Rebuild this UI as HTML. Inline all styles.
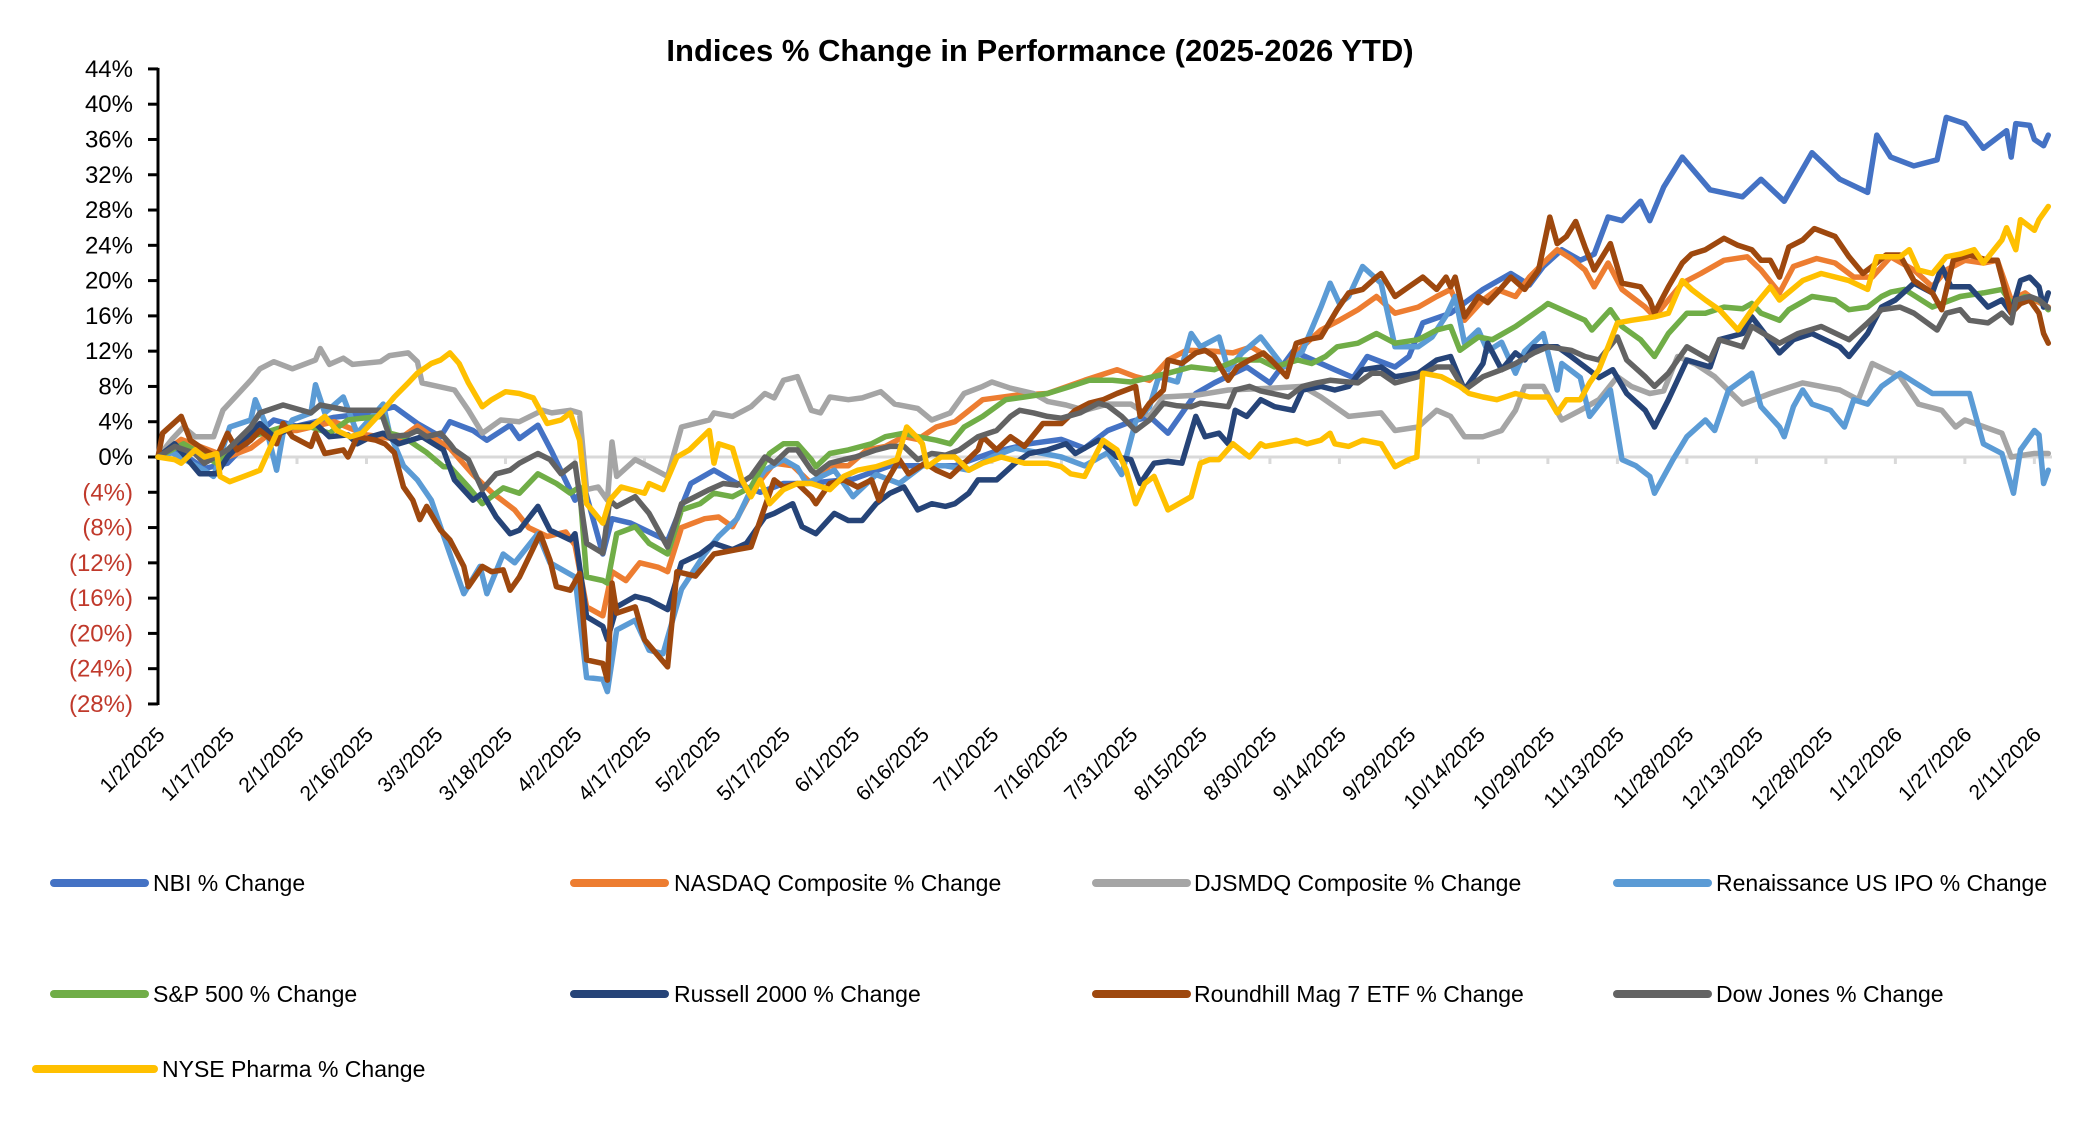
<!DOCTYPE html>
<html><head><meta charset="utf-8"><title>Indices % Change in Performance</title>
<style>html,body{margin:0;padding:0;background:#fff}svg{display:block}text{font-family:"Liberation Sans",sans-serif}</style>
</head><body>
<svg id="chart" width="2094" height="1132" viewBox="0 0 2094 1132" xmlns="http://www.w3.org/2000/svg">
<rect x="0" y="0" width="2094" height="1132" fill="#fff"/>
<text x="1040" y="61" text-anchor="middle" font-size="31" font-weight="bold" fill="#000">Indices % Change in Performance (2025-2026 YTD)</text>
<g id="grid"></g><g id="yaxis"></g><g id="xaxis"></g><g id="series"></g><g id="legend"></g>
</svg>
<script>
const yTicks=[44,40,36,32,28,24,20,16,12,8,4,0,-4,-8,-12,-16,-20,-24,-28];
const xTickLabels=["1/2/2025","1/17/2025","2/1/2025","2/16/2025","3/3/2025","3/18/2025","4/2/2025","4/17/2025","5/2/2025","5/17/2025","6/1/2025","6/16/2025","7/1/2025","7/16/2025","7/31/2025","8/15/2025","8/30/2025","9/14/2025","9/29/2025","10/14/2025","10/29/2025","11/13/2025","11/28/2025","12/13/2025","12/28/2025","1/12/2026","1/27/2026","2/11/2026"];
const tickStepDays=15;
const seriesNames=["NBI % Change","NASDAQ Composite % Change","DJSMDQ Composite % Change","Renaissance US IPO % Change","S&P 500 % Change","Russell 2000 % Change","Roundhill Mag 7 ETF % Change","Dow Jones % Change","NYSE Pharma % Change"];
const seriesColors=["#4472C4","#ED7D31","#A5A5A5","#5B9BD5","#70AD47","#264478","#9E480E","#636363","#FFC000"];

const nbiDays=[0,3,10,15,20,25,30,38,46,51,56,61,63,68,71,76,78,82,85,90,92,96,98,102,106,110,115,120,125,130,135,140,150,158,165,172,180,188,195,200,205,210,214,218,224,228,235,240,245,254,258,261,265,267,270,273,279,286,292,296,299,303,307,310,313,316,320,322,325,329,335,342,346,351,357,363,369,371,374,379,384,386,390,394,399,400,401,404,405,407,408];
const nbiVals=[0,1.2,-1.3,-0.7,2,4.2,3.5,4.5,5,5.7,3.8,2.3,4,3,1.9,3.6,2.1,3.6,0.6,-4.9,-3.4,-11,-7,-7.5,-8.5,-9.5,-3,-1.5,-3,-4,-3,-3,-2.5,-1,-1,-1,0.5,1.5,2,1,3,4,4.6,2.7,7.2,8.4,10.2,8.4,12,9.9,9,11.4,10.6,10.2,11.4,15.2,16.3,19,20.8,19.5,21.6,23.5,22.3,23,27.2,26.8,29,26.8,30.6,34,30.3,29.5,31.5,29,34.5,31.5,30,36.5,34,33,33.7,38.5,37.8,35,37,34,37.8,37.6,36,35.3,36.5];

const nasdaqDays=[0,5,10,15,20,25,30,38,45,52,56,60,63,68,72,77,80,84,88,90,92.5,96,98,101,104,108,110,113,118,121,124,128,133,137,141,145,149,153,157,161,164,168,172,178,185,192,200,207,211,214,218,222,228,232,236,243,247,251,255,259,263,267,272,276,279,282,286,289,293,296,299,302,305,308,310,313,316,321,323,329,333,338,343,346,350,353,358,362,366,370,374,379,383,386,390,394,397,400,403,405,408];
const nasdaqVals=[0,2,1,0,1,3,3,4,2.5,2,3.5,2,1,-2,-4,-6,-8,-9,-8.5,-10,-17,-18,-13,-14,-12,-12.5,-13,-8,-7,-6.8,-7.9,-4,-0.7,-1,-3,-1,-1,0.8,1.2,2.3,2,3.4,4,6.5,7,7.2,8.7,9.9,9.1,8.7,11,12.1,12,11.8,12.5,10.2,12.5,14.4,15.5,16.7,18.2,16.3,17,18.2,19,15.5,17.8,19,18.2,20.4,22,23.5,22.5,21.2,19.3,22,19,17,15.9,19.7,20.8,22.3,22.7,21.2,18.6,21.6,22.5,22,20.4,20.4,22.7,21.2,19.3,21.2,22.3,22,22.3,17.8,18.6,17.8,17];

const djsmdqDays=[0,3,5.5,8,12,14,20,22,25,29,34,35,37,40,42,48,50,54,56,57,64,67,70,74,78,83,85,89,91,92.5,95,97,98,99,103,106,110,113,119,120,124,128,131,133,135,138,141,143,145,149,152,156,159,164,167,171,174,178,180,184,189,192,196,200,205,210,214,217,224,231,240,247,251,257,264,267,272,276,279,282,286,290,293,295,299,303,307,311,315,318,322,325,328,332,336,342,348,355,363,367,370,376,380,385,388,390,398,400,405,408];
const djsmdqVals=[0,2,3.4,2.3,2.3,5.3,8.7,10,10.8,10,11,12.3,10.5,11.2,10.5,10.8,11.5,11.8,10.8,8.4,7.6,5.3,2.7,4.2,4,5.3,5,5.3,5,-3.7,-3.4,-4.9,1.7,-2.2,-0.3,-1.1,-2.2,3.4,4.2,5,4.6,5.7,7.2,6.7,8.7,9.1,5.3,5,6.8,6.5,6.7,7.4,6,5.5,4.2,5,7.2,8,8.5,7.8,7.2,6.3,5.9,5.3,6,6,4.6,6.8,7,7.6,7.8,8,6.8,4.6,5,3,3.4,5.3,4.6,2.3,2.3,3,5.3,8,8,4.2,5.3,6.5,9.1,8,7.2,7.5,11.4,10.5,9.1,6,7.2,8.4,7.6,6.5,10.6,9.1,6,5.3,3.4,4.2,2.7,0,0.4,0.4];

const ipoDays=[0,3,10,12,15.5,20,21,23,25.6,27,29,33,34,36,40,43,48.6,50,53,56,59,63,66,69.5,71,74.5,77,82,84.6,90,92.5,96,97,99,103,106,109,113,118,121,125,128,131,135,138,140,146,150,155,160,165,170,175,180,185,190,195,200,205,208,211,214,216,220,223,225,229,231,234,238,243,247,251,253,255,257,260,264,267,272,275,278,280,282,285,287,290,293,295,299,302,303,307,309,313.5,316,319,322,323,327,330,334,336,339,344,346,350,351,353,355,357,361,364,366,369,372,376,379,383,386,391,394,398,400.5,402,405,406,407,408];
const ipoVals=[0,0.5,-1.5,-2.2,3.4,4.2,6.5,4,-1.5,2.7,4.2,5,8.2,5,6.8,2.7,6,2.7,-1,-2.6,-4.9,-11,-15.5,-12.4,-15.5,-11,-12,-8.7,-12,-13.6,-25,-25.2,-26.6,-19.6,-18.5,-21.9,-22.3,-15,-11,-9,-7,-3.7,-1.5,-0.3,-1.2,-3,-1.5,-4.5,-2,-3,-1,-1,-1.5,0,1,0.5,0,-1,0.5,-2,4,5.7,9.1,8.5,14,12.5,13.6,9.9,11.8,13.6,10.2,12,17,19.7,17.4,18.2,21.6,19.7,12.5,12.5,13.6,16,18.2,12.9,14.4,12,13,9.5,12,14,7.6,10.6,9,4.6,7.6,-0.3,-1,-2.2,-4.1,-0.3,2.3,4.2,3,7.6,9.5,5.7,3.4,2.3,5.7,7.6,6,5.3,3.4,6.5,6,8,9.5,8.5,7.2,7.2,7.2,1.5,0.4,-4.1,0.8,3,2.5,-3,-1.5];

const spDays=[0,5.5,12.7,20,27,33,37,41,44,48.6,50,53,56,58,61.6,63,67,70,74.5,78,82,86,89,91,92.5,96,97,99,103,106,110,113,117,120,124,128,132,135,138,141,142,145,149,154,157,161,164,168,171,174,178,183,187,192,197,201,206,210,214,218,223,228,233,238,241,246,249,252,254.5,259,263,267,272,276,279,281,285,288,293,299,300,303,308,309.5,313.5,316,320,323,326,330,334,338,342,344,346,350,352,357,362,365,369,372,374,377,383,389,394,398,400,403,406,408];
const spVals=[0,1.5,-0.7,2.3,3.4,3.4,2.7,4.2,4.4,4.6,2.7,2.3,1.2,0.5,-1.1,-1.1,-3.4,-5.3,-3.5,-4.1,-1.9,-3,-4.1,-3.4,-13.6,-14,-14.3,-8.7,-7.9,-9.8,-11,-6,-5.3,-4.1,-4.5,-3.4,0.4,1.5,1.5,-0.3,-1.1,0.4,0.8,1.5,2.3,2.7,2.3,1.9,1.5,3.4,4.6,6.5,6.8,7.2,8,8.7,8.7,8.5,9,9.5,10.2,9.9,11,11,10.2,11,10.6,11.4,12.5,12.9,14,12.9,13.3,14.4,14.8,12.1,13.6,13.3,14.8,17,17.4,16.7,15.5,14.4,16.7,14.8,13.3,11.4,14,16.3,16.3,17,16.8,17.4,16.3,15.5,16.7,18.2,17.8,16.7,17,18.2,18.7,19,17,18.2,18.6,19,17.4,18.2,17.8,16.7];

const russellDays=[0,3.6,9,12.7,15,20,22,25,29,34,37,41,43,46,48.6,52,57,61.6,64,68,70,73,76,78,82,84.6,89,90,92.5,96,97,99,103,106,110,113,117,120,124,127,131,133,137,139,142,146,149,152,155,158,161,164,167,170,172,175,177,181,185,188,192,196,198,203,207,210,212,215,218,221,224,226,229,231,232.5,235,238,241,245,247,251,254,257,260,264,267,272,276,279,282,286,287,290,293,295,297,302,305,308,311,314,317,321,323,326,330,335,337,342,344,350,353,357,363,365,369,372,375,379,383,385,387,391,395,398,400,402,404,406,407,408];
const russellVals=[0,1.5,-1.9,-1.9,0,2.7,3.8,2.3,3.4,3.8,2.3,2.5,1.5,2.3,2.7,1.5,2.3,0.8,-2.6,-4.9,-4.1,-6.8,-8.7,-8.3,-5.6,-8.3,-9.4,-8.7,-18.1,-19.2,-20.7,-17,-15.8,-16.2,-17.3,-12,-11,-9.8,-10.5,-9.8,-6.8,-6.4,-5.3,-7.9,-8.7,-6.4,-7.2,-7.2,-5.3,-4.1,-3.4,-6,-5.3,-5.6,-5.3,-4.1,-2.6,-2.6,-0.7,0.4,0.8,1.5,0.4,1.9,0,-0.3,-3,-0.7,-0.5,-0.7,4.6,2.3,2.7,1.5,5.3,4.6,6.5,5.7,5.3,7.6,8,7.6,8,9.9,10.2,9.1,9.5,11,11.4,7.6,10.6,12.9,9.9,11.8,11,12.5,12.5,11.4,10.2,9,9.9,7.2,5.3,3.4,6.5,11,10.2,13.3,14,15.9,11.8,13.3,14,12.5,11.4,14,17,17.8,19.7,18.6,21.6,19.3,19.3,17,17.8,16.3,20,20.4,19.3,17,18.6];

const mag7Days=[0,1,5,7,10,12.7,15,17,20,22,25.6,27,29,33,34,36,40,41,43,47,49,51,53,55,56.5,58,61,63,66,67,70,72,74.5,76,78,82.5,84.6,86,89,91,92.5,96,97,98,99,103,105,110,112,116,120,125,128,133,135,138,141,142,145,148,151,154,155.6,157,160,162,165.6,168,171,174,177,178,181,184,187,191,195,198,201,204,207,211,212,214,217,218,221,224,226,228,231,233,235.6,238.6,241,243.6,245.7,248,251,254.5,257,260,263,264,267,270,273,276,278,279,280,282,285,287,289,292,295,298,300.4,302,304,306,308,310,313.5,316,320,322,323,326,329,331,334,338,341,344,346,348,350,352,355,357.5,362,365,368,370,373,376,379,383,385,387.5,391,395,397,400,402,404,406,407,408];
const mag7Vals=[0,2.7,4.6,1.9,0.8,0,2.7,0.8,1.9,3,1.5,3.8,2.3,1.2,2.7,0.4,0.8,0,2.3,1.9,1.5,0.5,-3.4,-4.9,-7.1,-5.6,-8.3,-9.4,-12.4,-14.7,-12.4,-13,-12.8,-15.1,-13.6,-8.7,-11.7,-14.7,-15.1,-13.2,-23,-23.4,-25.3,-14.3,-17.7,-17,-20.7,-23.8,-13,-13.5,-11,-10.5,-10.2,-2.6,-3.4,-3,-4.5,-5.3,-3,-2.6,-3.4,-2.6,-4.9,-3,-0.3,-1.9,-0.7,-1.5,-2.2,-0.7,0.8,2.3,0.8,2.3,1.2,3.8,3.8,5.3,6.1,6.5,7.2,8,4.6,6.1,7.6,11,10.6,11.8,12.1,11.4,8.7,10.2,11,11.8,10.6,9.1,12.9,13.3,13.6,16.7,18.6,19,20.4,20.8,18.2,19.3,20.4,19,20.4,19.3,20.4,15.9,18.2,17.5,18.6,20.4,19,21.2,27.2,24.2,25,26.7,23.8,21.2,24.2,19.7,19.3,17.8,16.3,19.3,22,23,23.5,24.8,24,23.5,22.3,22.3,20.4,23.8,24.6,25.9,25,22.7,20.8,21.6,22.9,22.9,20,18.6,16.7,22.3,22.9,22.3,22.3,16.3,17.4,17.8,16.3,14,12.9];

const dowDays=[0,3.6,8,10,15,20,22,27,33,35,41,48,50,54,56,58,61,63,64,67,70,73,76,78,82,84.6,87,90,92.5,96,97.5,99,103,106,110,113,119,122,125,128,131,133,136,138,141,142,145,148,150.6,155,158,161,164,167,170,173,177,181,184,186,189,192,195,199,203,205,208,211,214,217,220,223,225,231,232.5,235.6,238,244,247,250,253,259,262,264,267,272,276,279,282,286,290,293,297,300,305,308,311,315,317,321,323,326,330,335,337,342,344,350,354,359,365,369,372,376,379,384,386,389,391,395,398,400,401,404,406,408];
const dowVals=[0,1.2,0.4,-0.7,0.8,3.4,5,5.9,5,5.9,5.3,5.3,2.3,2.5,3,2.3,2.7,1.5,0.8,-0.3,-3.7,-1.9,-1.5,-0.7,0.4,-0.3,-1.9,-0.7,-9.8,-10.9,-4.9,-5.6,-4.5,-6.4,-10.2,-5.3,-3.7,-3,-3.2,-2.2,0,-0.7,0.8,0.8,-1.5,-1.9,-0.7,-0.3,0,0.8,1.2,1.2,-0.3,0.4,0.2,0.8,2.3,3,4.6,5.3,5,4.6,4.4,5,6.1,5.8,4.6,3,4.2,6.1,5.8,5.7,6.1,5.7,7.6,8,7.5,6.8,8,8.4,8.7,8.4,9.5,9.5,8.4,9.1,10.2,10.2,7.6,9.1,9.9,10.6,11.8,12.5,12.1,11.4,11,13.6,11,9.1,8,9.5,12.5,11,13.3,12.5,14.8,12.9,14,14.8,13.3,15.2,16.7,17,16.3,14.4,16.3,16.7,15.5,15.2,16.3,15.2,17.8,18.2,17.8,16.9];

const pharmaDays=[0,3.6,5,8,10,12.7,13.4,15.5,20,22,25.6,29,33,36,38.6,41.5,44,48.6,51,54,56,59,61,63,65,67,70,72,75,78,81,84,87,89,91,92.5,96,97.5,100,105,106,109,112,114.7,119,120,121,124,126,128,130,132,135,138,141,145,148,151,155,159.5,161.6,163.7,165,166,169,172,175,178,182,187,192,195,197,200,204,207,209,211,213,215,218,223,225,227,229,232,235.6,238,239,242,245.7,248,251,253,254,257,260,264,267,270,271.7,273,277,281,283,286,289,293,296,300,302,304,307,309,311,313,315,318,323,326,329,331,334,337,341,345,348,350,355,359,365,369,371,376,378,380,383,386,389,392,394,398,399,401,402,405,406,408];
const pharmaVals=[0,-0.3,-0.7,0.8,0,0.4,-2.2,-2.8,-1.9,-1.5,2.7,3.4,3.4,4.6,3,2.3,2.7,5.3,6.8,8.4,9.5,10.6,11,11.8,10.6,8.4,5.7,6.5,7.4,7.2,6.7,3.8,4.2,5,1.9,-5.3,-7.5,-4.9,-3.4,-4.1,-3,-3.7,0,0.8,3,-0.7,1.5,1,-2.6,-4.5,-2.6,-5.3,-3.7,-3,-3,-3.7,-2.2,-1.5,-1.1,-0.3,3.4,2.3,1.5,-1.1,0,0,-1.5,-0.7,0,-0.7,-0.7,-1.1,-1.9,-2.2,1.9,0.8,-1.5,-5.3,-3,-2.2,-6,-4.5,-0.7,-0.3,-0.3,1.5,0,1.5,1.2,1.5,1.9,1.5,1.9,2.7,1.5,1.2,1.9,1.5,-1.1,-0.3,0,9.5,9.1,8,7.2,6.8,6.5,7.2,6.8,6.8,5,6.5,6.5,8.4,9.9,12.5,15.2,15.5,15.9,16.3,20,19,17.8,16.7,14.4,17.4,19.3,17.8,20,20.8,20,19,22.7,22.7,23.5,21.2,20.8,22.7,23,23.5,22,24.6,26,23.5,26.9,25.7,26.9,28.4];

const allDays=[nbiDays,nasdaqDays,djsmdqDays,ipoDays,spDays,russellDays,mag7Days,dowDays,pharmaDays];
const allVals=[nbiVals,nasdaqVals,djsmdqVals,ipoVals,spVals,russellVals,mag7Vals,dowVals,pharmaVals];
const seriesKeys=["nbi","nasdaq","djsmdq","renaissance-ipo","sp500","russell-2000","roundhill-mag7","dow-jones","nyse-pharma"];

const NS="http://www.w3.org/2000/svg";
const X0=158, PX_PER_DAY=4.633, Y0=457, PX_PER_PCT=8.82, XEND=2052;
function xScale(d){return X0+d*PX_PER_DAY;}
function yScale(v){return Y0-v*PX_PER_PCT;}
function mk(tag,attrs,parent){const e=document.createElementNS(NS,tag);for(const k in attrs)e.setAttribute(k,attrs[k]);parent.appendChild(e);return e;}

const grid=document.getElementById('grid');
const zl=mk('line',{x1:X0,y1:yScale(0),x2:XEND,y2:yScale(0),stroke:'#D9D9D9','stroke-width':3},grid);


xTickLabels.forEach((lab,i)=>{
  const x=xScale(i*tickStepDays);
  const t=mk('line',{x1:x,y1:yScale(0),x2:x,y2:yScale(0)+7,stroke:'#D9D9D9','stroke-width':3},grid);
  
  
});

const ya=document.getElementById('yaxis');
const axl=mk('line',{x1:X0,y1:yScale(44)-1,x2:X0,y2:yScale(-28)+1,stroke:'#000','stroke-width':3},ya);


yTicks.forEach(v=>{
  const y=yScale(v);
  const tk=mk('line',{x1:X0-10,y1:y,x2:X0,y2:y,stroke:'#000','stroke-width':3},ya);
  
  
  const txt=mk('text',{x:133,y:y+8,'text-anchor':'end','font-size':24,fill:v<0?'#C0392B':'#000'},ya);
  txt.textContent=v<0?'('+Math.abs(v)+'%)':v+'%';
  
  
});

const xa=document.getElementById('xaxis');
xTickLabels.forEach((lab,i)=>{
  const x=xScale(i*tickStepDays);
  const t=mk('text',{'text-anchor':'end','font-size':21,fill:'#000',transform:'translate('+(x+8)+',736) rotate(-45)'},xa);
  t.textContent=lab;
  
  
});

const sg=document.getElementById('series');
allDays.forEach((days,si)=>{
  const vals=allVals[si];
  const n=Math.min(days.length,vals.length);
  let d='';
  for(let i=0;i<n;i++){d+=(i?'L':'M')+xScale(days[i]).toFixed(1)+' '+yScale(vals[i]).toFixed(1);}
  const p=mk('path',{d:d,fill:'none',stroke:seriesColors[si],'stroke-width':5.5,'stroke-linejoin':'round','stroke-linecap':'round'},sg);
  
  
});

const lg=document.getElementById('legend');
const legendPos=[[54,153,883],[574,674,883],[1096,1194,883],[1617,1716,883],[54,153,994],[574,674,994],[1096,1194,994],[1617,1716,994],[36,162,1069]];
legendPos.forEach((pos,si)=>{
  const g=mk('g',{},lg);
  
  
  const lineEnd=si===8?154:pos[0]+91;
  const ln=mk('line',{x1:pos[0],y1:pos[2],x2:lineEnd,y2:pos[2],stroke:seriesColors[si],'stroke-width':8,'stroke-linecap':'round'},g);
  
  
  const t=mk('text',{x:pos[1],y:pos[2]+8,'font-size':23,fill:'#000'},g);
  t.textContent=seriesNames[si];
  
  
});
</script>
</body></html>
